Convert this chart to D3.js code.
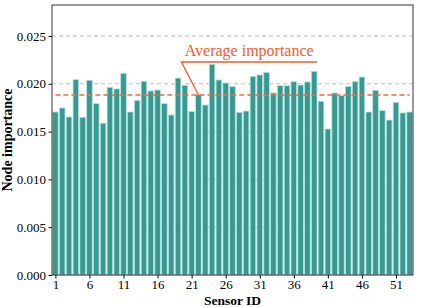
<!DOCTYPE html>
<html>
<head>
<meta charset="utf-8">
<script src="https://cdn.jsdelivr.net/npm/d3@7"></script>
<style>
  body { margin: 0; background: #fff; }
  svg { font-family: "Liberation Serif", "DejaVu Serif", serif; }
</style>
</head>
<body>
<svg id="chart" width="425" height="307"></svg>
<script>
// node importance for each sensor
const sensorIds = d3.range(1, 54);
const importance = [
  0.01705, 0.01747, 0.01653, 0.02043, 0.01650, 0.02037, 0.01792, 0.01587, 0.01963, 0.01946,
  0.02110, 0.01705, 0.01827, 0.02026, 0.01925, 0.01935, 0.01792, 0.01674, 0.02060, 0.01984,
  0.01708, 0.01886, 0.01778, 0.02204, 0.02040, 0.02008, 0.01970, 0.01702, 0.01715, 0.02078,
  0.02092, 0.02120, 0.01904, 0.01980, 0.01980, 0.02022, 0.01987, 0.02019, 0.02130, 0.01817,
  0.01527, 0.01904, 0.01876, 0.01973, 0.02022, 0.02071, 0.01705, 0.01932, 0.01719, 0.01621,
  0.01806, 0.01695, 0.01705
];
const avgImportance = 0.01883;
const xTicks = [1, 6, 11, 16, 21, 26, 31, 36, 41, 46, 51];
const yTicks = [0, 0.005, 0.010, 0.015, 0.020, 0.025];
const annoText = "Average importance";
// annotation: [x, y] in data units
const annoPoint = [22, avgImportance];
const annoStart = [19.5, 0.02228];
const annoEnd = [39.4, 0.02228];

const margin = {top: 5, right: 12, bottom: 32, left: 52};
const W = 425, H = 307;
const width = W - margin.left - margin.right;
const height = H - margin.top - margin.bottom;

const svg = d3.select("#chart");
const g = svg.append("g").attr("transform", "translate(" + margin.left + "," + margin.top + ")");

const x = d3.scaleLinear().domain([0.5, 53.5]).range([0, width]);
const y = d3.scaleLinear().domain([0, 0.02824]).range([height, 0]);
const step = x(2) - x(1);
const barW = step * 0.82;

// grid
g.selectAll(".grid").data(yTicks.slice(1)).enter().append("line")
  .attr("x1", 0).attr("x2", width)
  .attr("y1", d => y(d)).attr("y2", d => y(d))
  .attr("stroke", "#b8b8b8").attr("stroke-width", 0.9)
  .attr("stroke-dasharray", "4,3");

// bars
g.selectAll(".bar").data(importance).enter().append("rect")
  .attr("x", (d, i) => x(sensorIds[i]) - barW / 2)
  .attr("y", d => y(d))
  .attr("width", barW)
  .attr("height", d => height - y(d))
  .attr("fill", "#369a93")
  .attr("stroke", "#b9dfdb")
  .attr("stroke-width", 0.8);

// average line
g.append("line")
  .attr("x1", x(1)).attr("x2", x(53))
  .attr("y1", y(avgImportance)).attr("y2", y(avgImportance))
  .attr("stroke", "#f26a3c").attr("stroke-width", 1.4)
  .attr("stroke-dasharray", "5,3");

// annotation
g.append("path")
  .attr("d", "M" + x(annoEnd[0]) + "," + y(annoEnd[1]) +
             "L" + x(annoStart[0]) + "," + y(annoStart[1]) +
             "L" + x(annoPoint[0]) + "," + y(annoPoint[1]))
  .attr("fill", "none").attr("stroke", "#ff5722").attr("stroke-width", 1.3);
g.append("text")
  .attr("x", (x(annoStart[0]) + x(annoEnd[0])) / 2)
  .attr("y", y(annoStart[1]) - 6)
  .attr("text-anchor", "middle")
  .attr("fill", "#ff5722")
  .attr("font-size", 16)
  .text(annoText);

// axes
const xAxis = g.append("g").attr("transform", "translate(0," + height + ")")
  .call(d3.axisBottom(x).tickValues(xTicks).tickFormat(d3.format("d"))
    .tickSizeInner(3.5).tickSizeOuter(0).tickPadding(1.5));
const yAxis = g.append("g")
  .call(d3.axisLeft(y).tickValues(yTicks).tickFormat(d3.format(".3f"))
    .tickSizeInner(3.5).tickSizeOuter(0).tickPadding(2.5));
[xAxis, yAxis].forEach(a => {
  a.select(".domain").remove();
  a.selectAll("text").attr("font-family", "Liberation Serif").attr("font-size", 13).attr("fill", "#000");
  a.selectAll("line").attr("stroke", "#000");
});

// frame
g.append("rect").attr("width", width).attr("height", height)
  .attr("fill", "none").attr("stroke", "#333").attr("stroke-width", 1);

// labels
svg.append("text")
  .attr("x", margin.left + width / 2).attr("y", 305)
  .attr("text-anchor", "middle").attr("font-weight", "bold").attr("font-size", 13.5)
  .text("Sensor ID");
svg.append("text")
  .attr("transform", "translate(12," + (margin.top + height / 2) + ") rotate(-90)")
  .attr("text-anchor", "middle").attr("font-weight", "bold").attr("font-size", 14)
  .text("Node importance");
</script>
</body>
</html>
